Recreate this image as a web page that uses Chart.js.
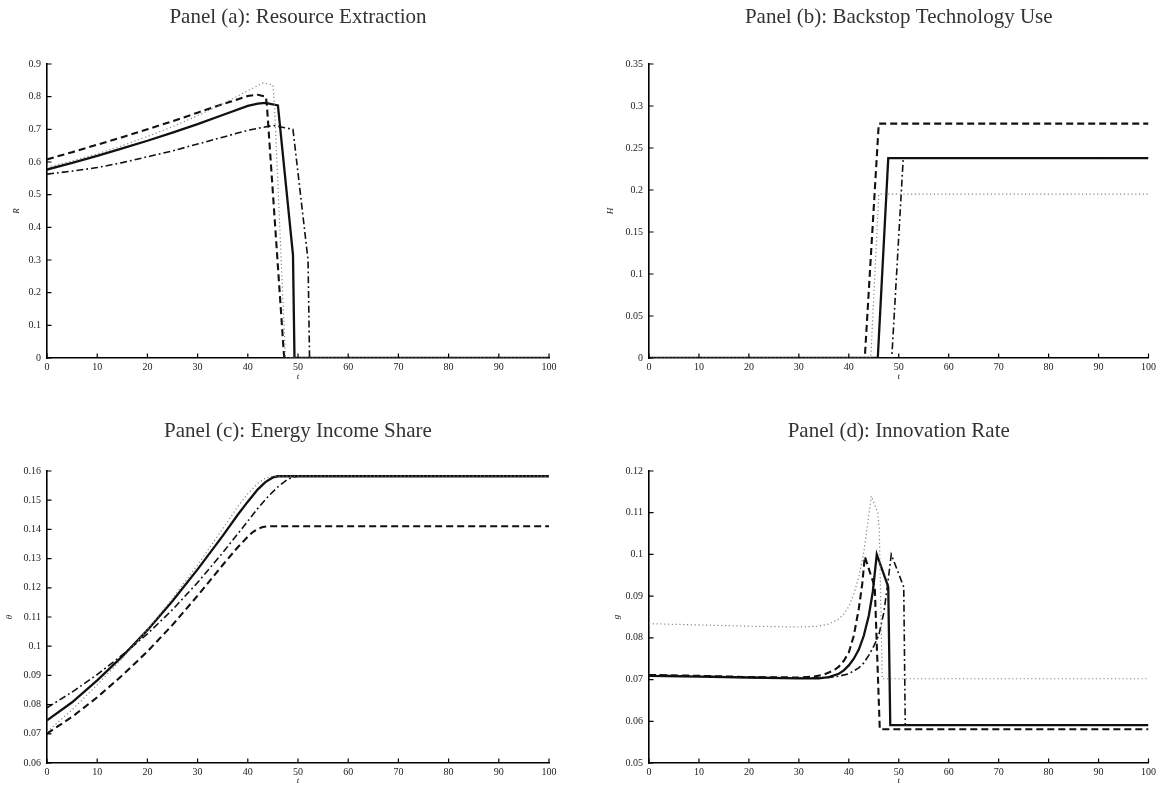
<!DOCTYPE html>
<html><head><meta charset="utf-8">
<script src="https://cdn.jsdelivr.net/npm/chart.js@4.4.1/dist/chart.umd.min.js"></script>
<style>
html,body{margin:0;padding:0;background:#fff;}
#wrap{position:relative;width:1159px;height:785px;overflow:hidden;}
canvas{position:absolute;}
</style></head>
<body><div id="wrap">
<canvas id="ca" width="580" height="392" style="left:0;top:0"></canvas>
<canvas id="cb" width="579" height="392" style="left:580px;top:0"></canvas>
<canvas id="cc" width="580" height="393" style="left:0;top:392px"></canvas>
<canvas id="cd" width="579" height="393" style="left:580px;top:392px"></canvas>
</div>
<script>
// ---------- Panel (a): Resource Extraction R ----------
const tA_solid = [0,5,10,15,20,25,30,35,40,42,43.5,46,49,49.3,100];
const RA_solid = [0.577,0.597,0.619,0.642,0.665,0.690,0.716,0.744,0.772,0.779,0.781,0.773,0.316,0,0];
const tA_dash = [0,5,10,15,20,25,30,35,40,42,43.6,43.8,47.2,47.3,100];
const RA_dash = [0.608,0.630,0.653,0.676,0.700,0.725,0.751,0.777,0.802,0.806,0.800,0.775,0.01,0,0];
const tA_dot = [0,5,10,15,20,25,30,35,40,43,45,45.3,47.5,100];
const RA_dot = [0.584,0.603,0.625,0.650,0.678,0.708,0.742,0.778,0.818,0.842,0.836,0.780,0,0];
const tA_dd = [0,5,10,15,20,25,30,35,40,45,49,52,52.3,100];
const RA_dd = [0.563,0.572,0.583,0.598,0.616,0.634,0.655,0.676,0.697,0.712,0.700,0.300,0,0];

// ---------- Panel (b): Backstop Technology Use H ----------
const tB_solid = [0,45.8,47.9,100];
const HB_solid = [0,0,0.238,0.238];
const tB_dash = [0,43.2,46,100];
const HB_dash = [0,0,0.279,0.279];
const tB_dot = [0,44.4,46,100];
const HB_dot = [0,0,0.195,0.195];
const tB_dd = [0,48.6,50.9,100];
const HB_dd = [0,0,0.238,0.238];

// ---------- Panel (c): Energy Income Share theta ----------
const tC_solid = [0,5,10,15,20,25,30,35,38,40,42,43.5,45,46,100];
const TC_solid = [0.0746,0.0808,0.0883,0.0965,0.1055,0.1155,0.1263,0.1378,0.1450,0.1495,0.1537,0.1562,0.1578,0.1582,0.1582];
const tC_dot = [0,5,10,15,20,25,30,35,38,40,42,43.5,45,100];
const TC_dot = [0.0707,0.0782,0.0868,0.0958,0.1057,0.1163,0.1278,0.1402,0.1478,0.1522,0.1558,0.1576,0.1582,0.1582];
const tC_dd = [0,5,10,15,20,25,30,35,40,42,44,46,48,49,50,100];
const TC_dd = [0.0789,0.0843,0.0903,0.0970,0.1042,0.1125,0.1218,0.1320,0.1428,0.1472,0.1512,0.1546,0.1572,0.1579,0.1582,0.1582];
const tC_dash = [0,5,10,15,20,25,30,35,38,40,41,42,43,44,100];
const TC_dash = [0.0701,0.0758,0.0825,0.0900,0.0982,0.1073,0.1173,0.1278,0.1339,0.1375,0.1391,0.1402,0.1408,0.1411,0.1411];

// ---------- Panel (d): Innovation Rate g ----------
const tD_solid = [0,10,20,30,34,36,38,39,40,41,42,43,44,44.8,45.6,47.9,48.3,100];
const GD_solid = [0.0709,0.0707,0.0705,0.0703,0.0703,0.0706,0.0714,0.0722,0.0734,0.0750,0.0772,0.0805,0.0853,0.0910,0.1000,0.0922,0.0591,0.0591];
const tD_dash = [0,10,20,30,33,35,37,38,39,40,41,42,42.7,43.2,45.2,46.2,100];
const GD_dash = [0.0711,0.0709,0.0706,0.0705,0.0707,0.0712,0.0722,0.0731,0.0745,0.0765,0.0805,0.0870,0.0930,0.0995,0.0922,0.0581,0.0581];
const tD_dot = [0,10,20,30,34,36,38,39,40,41,42,43,43.8,44.5,45.8,46.1,46.7,100];
const GD_dot = [0.0834,0.0831,0.0828,0.0826,0.0828,0.0833,0.0845,0.0857,0.0875,0.0905,0.0945,0.1005,0.1075,0.1140,0.1100,0.1060,0.0702,0.0702];
const tD_dd = [0,10,20,30,36,38,40,42,43,44,45,46,47,47.8,48.5,51,51.3,100];
const GD_dd = [0.0711,0.0708,0.0705,0.0703,0.0705,0.0708,0.0714,0.0728,0.0740,0.0758,0.0780,0.0806,0.0860,0.0930,0.1000,0.0922,0.0591,0.0591];

const SERIF = "'Liberation Serif', 'Times New Roman', serif";

function pts(t, v){ return t.map((x,i)=>({x:x, y:v[i]})); }

const STY = {
  dot:   {borderColor:'#858585', borderWidth:1.2, borderDash:[1.2,2.6]},
  dd:    {borderColor:'#111', borderWidth:1.6, borderDash:[7,3,1.8,3]},
  dash:  {borderColor:'#111', borderWidth:2.1, borderDash:[7,4]},
  solid: {borderColor:'#111', borderWidth:2.3, borderDash:[]}
};

function ds(kind, t, v){
  return Object.assign({data:pts(t,v), pointRadius:0, fill:false, tension:0}, STY[kind]);
}

const inwardTicks = {
  id:'inwardTicks',
  afterDraw(chart){
    const ctx = chart.ctx, xs = chart.scales.x, ys = chart.scales.y;
    const a = chart.chartArea;
    ctx.save();
    ctx.strokeStyle = '#000'; ctx.lineWidth = 1.2;
    ctx.beginPath();
    xs.ticks.forEach(tk=>{ const p = xs.getPixelForValue(tk.value); ctx.moveTo(p, a.bottom); ctx.lineTo(p, a.bottom-4.5); });
    ys.ticks.forEach(tk=>{ const p = ys.getPixelForValue(tk.value); ctx.moveTo(a.left, p); ctx.lineTo(a.left+4.5, p); });
    ctx.stroke();
    ctx.restore();
  }
};

function fmt(v){ return String(+(+v).toFixed(4)); }

function makeChart(id, cfg){
  new Chart(document.getElementById(id), {
    type:'line',
    data:{datasets: cfg.datasets},
    options:{
      responsive:false, animation:false, devicePixelRatio:1,
      layout:{padding:{left:cfg.padL, right:cfg.padR, top:0, bottom:0}},
      plugins:{
        legend:{display:false}, tooltip:{enabled:false},
        title:{display:true, text:cfg.title, fullSize:false, color:'#333',
          font:{family:SERIF, size:21, weight:'normal', lineHeight:1},
          padding:{top:cfg.tPadTop, bottom:cfg.tPadBot}}
      },
      scales:{
        x:{type:'linear', min:0, max:100,
          ticks:{stepSize:10, color:'#222', padding:3, maxRotation:0, font:{family:SERIF, size:10}, callback:fmt},
          grid:{display:true, drawOnChartArea:false, drawTicks:false},
          border:{display:true, color:'#000', width:1.6},
          title:{display:true, text:'t', color:'#222', font:{family:SERIF, size:9, style:'italic', lineHeight:1}, padding:{top:0, bottom:cfg.xtPad}},
          afterFit(s){ s.height = cfg.xH; }
        },
        y:{type:'linear', min:cfg.ymin, max:cfg.ymax,
          ticks:{stepSize:cfg.ystep, color:'#222', padding:6, font:{family:SERIF, size:10}, callback:fmt},
          grid:{display:true, drawOnChartArea:false, drawTicks:false},
          border:{display:true, color:'#000', width:1.6},
          title:{display:true, text:cfg.ytitle, color:'#222', font:{family:SERIF, size:9, style:'italic', lineHeight:1}, padding:0},
          afterFit(s){ s.width = cfg.yW; }
        }
      }
    },
    plugins:[inwardTicks]
  });
}

makeChart('ca', {
  title:'Panel (a): Resource Extraction', ytitle:'R',
  ymin:0, ymax:0.9, ystep:0.1, padL:12, yW:35, padR:31, xH:34, xtPad:11, tPadTop:7, tPadBot:36,
  datasets:[ds('dot',tA_dot,RA_dot), ds('dd',tA_dd,RA_dd), ds('dash',tA_dash,RA_dash), ds('solid',tA_solid,RA_solid)]
});
makeChart('cb', {
  title:'Panel (b): Backstop Technology Use', ytitle:'H',
  ymin:0, ymax:0.35, ystep:0.05, padL:26, yW:43, padR:8, xH:34, xtPad:11, tPadTop:7, tPadBot:36,
  datasets:[ds('dot',tB_dot,HB_dot), ds('dd',tB_dd,HB_dd), ds('dash',tB_dash,HB_dash), ds('solid',tB_solid,HB_solid)]
});
makeChart('cc', {
  title:'Panel (c): Energy Income Share', ytitle:'θ',
  ymin:0.06, ymax:0.16, ystep:0.01, padL:5, yW:42, padR:31, xH:22, xtPad:0, tPadTop:29, tPadBot:29,
  datasets:[ds('dot',tC_dot,TC_dot), ds('dd',tC_dd,TC_dd), ds('dash',tC_dash,TC_dash), ds('solid',tC_solid,TC_solid)]
});
makeChart('cd', {
  title:'Panel (d): Innovation Rate', ytitle:'g',
  ymin:0.05, ymax:0.12, ystep:0.01, padL:32, yW:37, padR:8, xH:22, xtPad:0, tPadTop:29, tPadBot:29,
  datasets:[ds('dot',tD_dot,GD_dot), ds('dd',tD_dd,GD_dd), ds('dash',tD_dash,GD_dash), ds('solid',tD_solid,GD_solid)]
});
</script>
</body></html>
